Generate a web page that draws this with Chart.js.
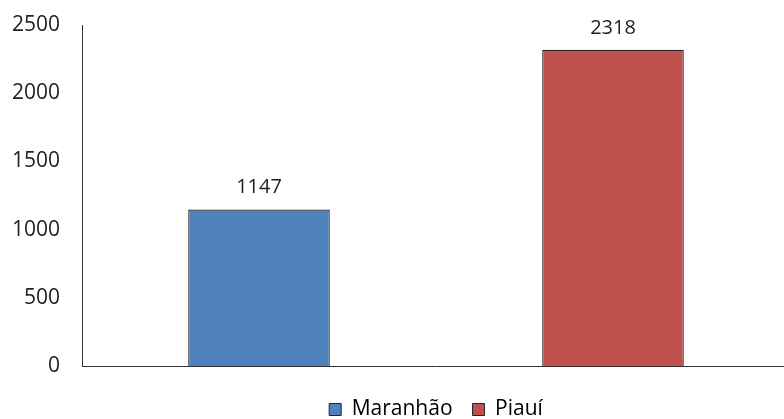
<!DOCTYPE html>
<html>
<head>
<meta charset="utf-8">
<script src="https://cdn.jsdelivr.net/npm/chart.js@4"></script>
<style>
  html, body { margin: 0; padding: 0; background: #fff; overflow: hidden; }
  #wrap { width: 784px; height: 419px; overflow: hidden; }
</style>
</head>
<body>
<div id="wrap"><canvas id="chart" width="790" height="419"></canvas></div>
<script>
// Chart values
const states = ['Maranhão', 'Piauí'];
const counts = [1147, 2318];
const barColors = ['#4F81BD', '#C0504D'];
const yTicks = [0, 500, 1000, 1500, 2000, 2500];

const FONT = '"Open Sans", "DejaVu Sans", sans-serif';

// draws the value above each bar
const valueLabels = {
    id: 'valueLabels',
    afterDatasetsDraw(chart) {
        const ctx = chart.ctx;
        const meta = chart.getDatasetMeta(0);
        ctx.save();
        ctx.font = '20px ' + FONT;
        ctx.fillStyle = '#222';
        ctx.textAlign = 'center';
        ctx.textBaseline = 'bottom';
        meta.data.forEach((bar, i) => {
            ctx.fillText(String(counts[i]), bar.x, bar.y - 12);
        });
        ctx.restore();
    }
};

new Chart(document.getElementById('chart').getContext('2d'), {
    type: 'bar',
    data: {
        labels: states,
        datasets: [{
            data: counts,
            backgroundColor: barColors,
            borderColor: '#262626',
            borderWidth: 1.2,
            categoryPercentage: 1,
            barPercentage: 0.4
        }]
    },
    options: {
        responsive: false,
        animation: false,
        layout: { padding: { top: 25, right: 0, left: 0, bottom: -11 } },
        scales: {
            x: {
                grid: { display: false },
                border: { display: true, color: '#333', width: 1 },
                ticks: { display: false },
                afterFit(scale) { scale.height = 13; }
            },
            y: {
                min: 0,
                max: 2500,
                afterBuildTicks(scale) {
                    scale.ticks = yTicks.map(v => ({ value: v }));
                },
                afterFit(scale) {
                    scale.width = 82;
                    scale.paddingTop = 0;
                    scale.paddingBottom = 0;
                },
                grid: { display: false, drawTicks: false },
                border: { display: true, color: '#333', width: 1 },
                ticks: {
                    color: '#222',
                    padding: 22,
                    font: { family: FONT, size: 21 },
                    callback: v => String(v)
                }
            }
        },
        plugins: {
            tooltip: { enabled: false },
            legend: {
                position: 'bottom',
                fullSize: false,
                labels: {
                    color: '#222',
                    font: { family: FONT, size: 21 },
                    boxWidth: 12,
                    boxHeight: 12,
                    padding: 20,
                    generateLabels() {
                        return states.map((s, i) => ({
                            text: s,
                            fillStyle: barColors[i],
                            strokeStyle: '#262626',
                            lineWidth: 1,
                            index: i
                        }));
                    }
                }
            }
        }
    },
    plugins: [valueLabels]
});
</script>
</body>
</html>
